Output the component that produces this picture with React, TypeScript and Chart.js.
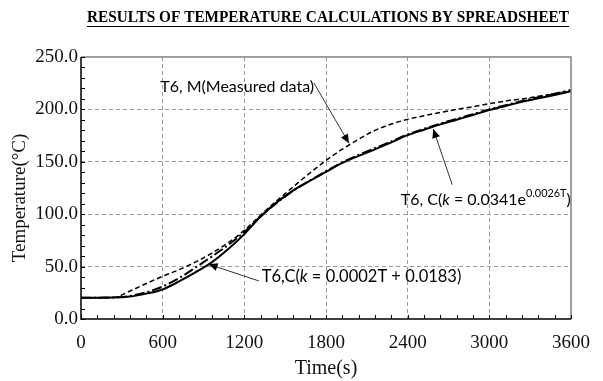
import React, { useEffect, useRef } from "react";
import { Chart, registerables } from "chart.js";
Chart.register(...registerables);

const TIME = [0, 120, 240, 360, 480, 600, 720, 840, 960, 1080, 1200, 1320, 1440, 1560, 1680, 1800, 1920, 2040, 2160, 2280, 2400, 2520, 2640, 2760, 2880, 3000, 3120, 3240, 3360, 3480, 3600];
const MEASURED = [20.3, 20.3, 20.5, 26.7, 33.9, 40.8, 47, 54.3, 62.7, 72.7, 84.5, 99.2, 113, 126.2, 139.1, 151.3, 162, 171.5, 180, 186, 190.5, 194, 197, 200, 202.5, 205.5, 208, 210, 212.5, 215, 218];
const CALC_EXP = [20.3, 20.3, 20.6, 22, 25.5, 31, 39, 49, 59.5, 70.5, 83, 98, 111, 122.5, 132, 141, 149.5, 156.5, 163, 169.5, 176, 181.5, 186.5, 191, 195.5, 200, 204, 208, 211.5, 215, 218.5];
const CALC_LIN = [20.3, 20.3, 20.4, 21.4, 24.2, 28.2, 35.8, 44.4, 54, 66.5, 81, 97.8, 111.5, 122.8, 131.8, 140.3, 149, 155.6, 161.8, 168.6, 175.4, 180.6, 185.7, 190.2, 194.7, 199.3, 203.3, 207.2, 210.5, 213.8, 217.3];

const X_TICKS = [0, 600, 1200, 1800, 2400, 3000, 3600];
const Y_TICKS = [0, 50, 100, 150, 200, 250];
const X_MINOR_STEP = 120;
const Y_MINOR_STEP = 10;

const TITLE = "RESULTS OF TEMPERATURE CALCULATIONS BY SPREADSHEET";
const X_TITLE = "Time(s)";
const Y_TITLE = "Temperature(°C)";

// annotation texts (segments) and anchors in data units
const NOTE_M = [{ t: "T6, M(Measured data)" }];
const NOTE_EXP = [{ t: "T6, C(" }, { t: "k", i: true }, { t: " = 0.0341e" }, { t: "0.0026T", sup: true }, { t: ")" }];
const NOTE_LIN = [{ t: "T6,C(" }, { t: "k", i: true }, { t: " = 0.0002T + 0.0183)" }];
const NOTE_M_AT = [582, 221.4];
const NOTE_EXP_AT = [2350, 113.5];
const NOTE_LIN_AT = [1328, 40];
const ARROW_M = [1711, 225.2, 1969, 167.6];
const ARROW_EXP = [2727, 128.2, 2588, 181.3];
const ARROW_LIN = [1307, 36.3, 937, 52.3];

const SANS = "Lato";
const SERIF = "'Liberation Serif', 'Times New Roman', serif";

function drawRich(ctx: CanvasRenderingContext2D, segs: any[], x: number, y: number, size: number) {
  let cx = x;
  ctx.textBaseline = "middle";
  ctx.textAlign = "left";
  for (const s of segs) {
    const sz = s.sup ? size * 0.68 : size;
    ctx.font = `${s.i ? "italic " : ""}${sz}px ${SANS}`;
    const dy = s.sup ? -size * 0.38 : 0;
    ctx.fillText(s.t, cx, y + dy);
    cx += ctx.measureText(s.t).width;
  }
}

function drawArrow(ctx: CanvasRenderingContext2D, x1: number, y1: number, x2: number, y2: number) {
  ctx.strokeStyle = "#333";
  ctx.fillStyle = "#000";
  ctx.lineWidth = 1;
  ctx.setLineDash([]);
  ctx.beginPath();
  ctx.moveTo(x1, y1);
  ctx.lineTo(x2, y2);
  ctx.stroke();
  const ang = Math.atan2(y2 - y1, x2 - x1);
  const L = 9, W = 4;
  ctx.beginPath();
  ctx.moveTo(x2, y2);
  ctx.lineTo(x2 - L * Math.cos(ang) + W * Math.sin(ang), y2 - L * Math.sin(ang) - W * Math.cos(ang));
  ctx.lineTo(x2 - L * Math.cos(ang) - W * Math.sin(ang), y2 - L * Math.sin(ang) + W * Math.cos(ang));
  ctx.closePath();
  ctx.fill();
}

const deco = {
  id: "deco",
  afterDraw(chart: any) {
    const { ctx, chartArea: a, scales } = chart;
    const xs = scales.x, ys = scales.y;
    ctx.save();
    ctx.setLineDash([]);
    // top/right border (grey)
    ctx.strokeStyle = "#808080";
    ctx.lineWidth = 1.5;
    ctx.beginPath();
    ctx.moveTo(a.left, a.top);
    ctx.lineTo(a.right, a.top);
    ctx.lineTo(a.right, a.bottom);
    ctx.stroke();
    // left/bottom border (black)
    ctx.strokeStyle = "#000";
    ctx.beginPath();
    ctx.moveTo(a.left, a.top);
    ctx.lineTo(a.left, a.bottom);
    ctx.lineTo(a.right, a.bottom);
    ctx.stroke();
    // inner ticks
    ctx.lineWidth = 1;
    ctx.strokeStyle = "#000";
    ctx.beginPath();
    for (let v = ys.min; v <= ys.max; v += Y_MINOR_STEP) {
      const y = Math.round(ys.getPixelForValue(v)) + 0.5;
      ctx.moveTo(a.left, y);
      ctx.lineTo(a.left + 4, y);
    }
    for (let t = xs.min; t <= xs.max; t += X_MINOR_STEP) {
      const x = Math.round(xs.getPixelForValue(t)) + 0.5;
      ctx.moveTo(x, a.bottom);
      ctx.lineTo(x, a.bottom - 4);
    }
    ctx.stroke();

    // annotations
    ctx.fillStyle = "#000";
    const px = (p: number[]) => [xs.getPixelForValue(p[0]), ys.getPixelForValue(p[1])];
    const m = px(NOTE_M_AT);
    drawRich(ctx, NOTE_M, m[0], m[1], 16);
    const e = px(NOTE_EXP_AT);
    drawRich(ctx, NOTE_EXP, e[0], e[1], 16);
    const l = px(NOTE_LIN_AT);
    drawRich(ctx, NOTE_LIN, l[0], l[1], 16.5);
    for (const ar of [ARROW_M, ARROW_EXP, ARROW_LIN]) {
      const s = px([ar[0], ar[1]]);
      const t = px([ar[2], ar[3]]);
      drawArrow(ctx, s[0], s[1], t[0], t[1]);
    }

    // chart title (bold, slightly condensed, underlined)
    ctx.fillStyle = "#000";
    ctx.textAlign = "center";
    ctx.textBaseline = "alphabetic";
    ctx.font = `bold 16px ${SERIF}`;
    const cx = (a.left + a.right) / 2 + 2;
    const natural = ctx.measureText(TITLE).width;
    const targetW = 482;
    const sx = targetW / natural;
    ctx.save();
    ctx.translate(cx, 22);
    ctx.scale(sx, 1);
    ctx.fillText(TITLE, 0, 0);
    ctx.restore();
    ctx.strokeStyle = "#000";
    ctx.lineWidth = 1;
    ctx.beginPath();
    ctx.moveTo(cx - targetW / 2, 26.5);
    ctx.lineTo(cx + targetW / 2, 26.5);
    ctx.stroke();

    ctx.textAlign = "center";
    ctx.textBaseline = "middle";
    ctx.font = `20px ${SERIF}`;
    ctx.fillStyle = "#111";
    ctx.fillText(X_TITLE, (a.left + a.right) / 2, 369);

    ctx.save();
    ctx.translate(20, 198);
    ctx.rotate(-Math.PI / 2);
    ctx.font = `19px ${SERIF}`;
    ctx.fillText(Y_TITLE, 0, 0);
    ctx.restore();
    ctx.restore();
  },
};

export default function App() {
  const ref = useRef<HTMLCanvasElement>(null);
  useEffect(() => {
    if (!ref.current) return;
    const mk = (arr: number[]) => TIME.map((t, i) => ({ x: t, y: arr[i] }));
    const gridColor = (c: any) =>
      c.tick && (c.tick.value === c.scale.min || c.tick.value === c.scale.max) ? "rgba(0,0,0,0)" : "#9a9a9a";
    const chart = new Chart(ref.current, {
      type: "line",
      data: {
        datasets: [
          { label: "Measured", data: mk(MEASURED), borderColor: "#000", borderWidth: 1.5, borderDash: [5, 3], pointRadius: 0, cubicInterpolationMode: "monotone" },
          { label: "Exp k", data: mk(CALC_EXP), borderColor: "#000", borderWidth: 2, borderDash: [10, 3, 2, 3], pointRadius: 0, cubicInterpolationMode: "monotone" },
          { label: "Linear k", data: mk(CALC_LIN), borderColor: "#000", borderWidth: 2, pointRadius: 0, cubicInterpolationMode: "monotone" },
        ],
      },
      options: {
        animation: false,
        responsive: true,
        maintainAspectRatio: false,
        layout: { padding: { top: 57, right: 15, left: 0, bottom: 0 } },
        plugins: { legend: { display: false }, tooltip: { enabled: false }, title: { display: false } },
        scales: {
          x: {
            type: "linear",
            min: 0,
            max: 3600,
            afterBuildTicks: (s: any) => { s.ticks = X_TICKS.map((v) => ({ value: v })); },
            afterFit: (s: any) => { s.height = 62; },
            grid: { color: gridColor, lineWidth: 1, drawTicks: false },
            border: { display: false, dash: [4, 3] },
            ticks: { padding: 13, color: "#111", font: { family: SERIF, size: 19 }, maxRotation: 0, autoSkip: false, callback: (v: any) => String(v) },
          },
          y: {
            min: 0,
            max: 250,
            afterBuildTicks: (s: any) => { s.ticks = Y_TICKS.map((v) => ({ value: v })); },
            afterFit: (s: any) => { s.width = 81; },
            grid: { color: gridColor, lineWidth: 1, drawTicks: false },
            border: { display: false, dash: [4, 3] },
            ticks: { padding: 3, color: "#111", font: { family: SERIF, size: 19 }, autoSkip: false, callback: (v: any) => Number(v).toFixed(1) },
          },
        },
      },
      plugins: [deco],
    } as any);
    return () => chart.destroy();
  }, []);
  return (
    <div style={{ position: "absolute", left: 0, top: 0, width: 603, height: 381 }}>
      <canvas ref={ref} />
    </div>
  );
}
